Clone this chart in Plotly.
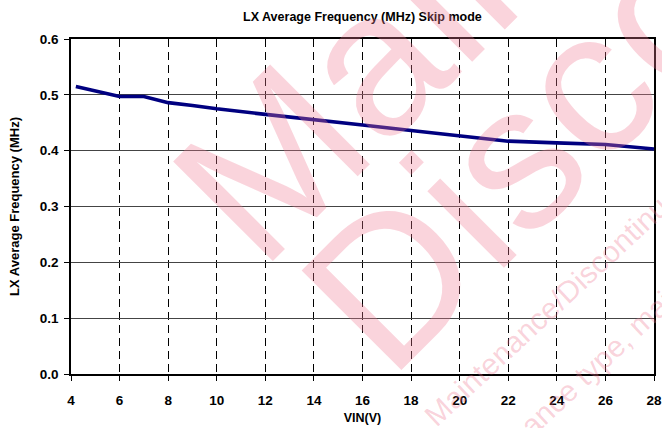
import plotly.graph_objects as go

# Supply voltage (V) and measured LX average switching frequency (MHz)
vin = [4.2, 5, 6, 7, 8, 9, 10, 12, 14, 16, 18, 20, 22, 24, 26, 28]
freq_mhz = [0.515, 0.507, 0.497, 0.497, 0.486, 0.481, 0.475, 0.465,
            0.456, 0.446, 0.436, 0.427, 0.417, 0.414, 0.411, 0.403]

x_ticks = [4, 6, 8, 10, 12, 14, 16, 18, 20, 22, 24, 26, 28]
y_ticks = [0.0, 0.1, 0.2, 0.3, 0.4, 0.5, 0.6]

FONT = "Arial, Liberation Sans, sans-serif"
PINK = "rgba(238,120,145,0.32)"

fig = go.Figure()
fig.add_trace(go.Scatter(
    x=vin, y=freq_mhz, mode="lines",
    line=dict(color="#000080", width=3.6),
    showlegend=False, hoverinfo="x+y",
))

fig.update_layout(
    width=662, height=428,
    margin=dict(l=71, r=8, t=39, b=54),
    paper_bgcolor="white", plot_bgcolor="white",
    font=dict(family=FONT, color="black"),
    title=dict(text="<b>LX Average Frequency (MHz) Skip mode</b>",
               x=0.5475, xanchor="center", y=0.962, yanchor="middle",
               font=dict(size=12.5, family=FONT, color="black")),
)

fig.update_xaxes(
    range=[4, 28], tickvals=x_ticks, ticktext=[f"<b>{v}</b>" for v in x_ticks],
    tickfont=dict(size=13.5, family=FONT, color="black"),
    showgrid=True, gridcolor="black", gridwidth=1, griddash="8px,5px",
    showline=True, linecolor="black", linewidth=1.5, mirror=True,
    ticks="outside", ticklen=5, tickcolor="black", tickwidth=1,
    ticklabelstandoff=8, automargin=False,
    zeroline=False,
    title=dict(text="<b>VIN(V)</b>", font=dict(size=12.5, family=FONT, color="black"),
               standoff=6),
)
fig.update_yaxes(
    range=[0, 0.6], tickvals=y_ticks, ticktext=[f"<b>{v:.1f}</b>" for v in y_ticks],
    tickfont=dict(size=13.5, family=FONT, color="black"),
    showgrid=True, gridcolor="#444444", gridwidth=1,
    showline=True, linecolor="black", linewidth=1.5, mirror=True,
    ticks="outside", ticklen=5, tickcolor="black", tickwidth=1,
    ticklabelstandoff=3, automargin=False,
    zeroline=False,
    title=dict(text="<b>LX Average Frequency (MHz)</b>",
               font=dict(size=13, family=FONT, color="black"), standoff=17),
)

# Status watermark printed across the page
watermark = [
    ("Maintenance/", 205, -45, 0.985, 1.752),
    ("Discontinued", 205, -45, 1.178, 1.379),
    ("Maintenance/Discontinued", 30, -43, 0.837, 0.221),
    ("planed maintenance type, maintenance type, planed discontinued type, discontinued type",
     30, -43, 1.268, 0.624),
]
for text, size, angle, xp, yp in watermark:
    fig.add_annotation(
        text=text, xref="paper", yref="paper", x=xp, y=yp,
        xanchor="center", yanchor="middle", showarrow=False,
        textangle=angle, font=dict(size=size, family=FONT, color=PINK),
    )

fig.write_html("out.html")
